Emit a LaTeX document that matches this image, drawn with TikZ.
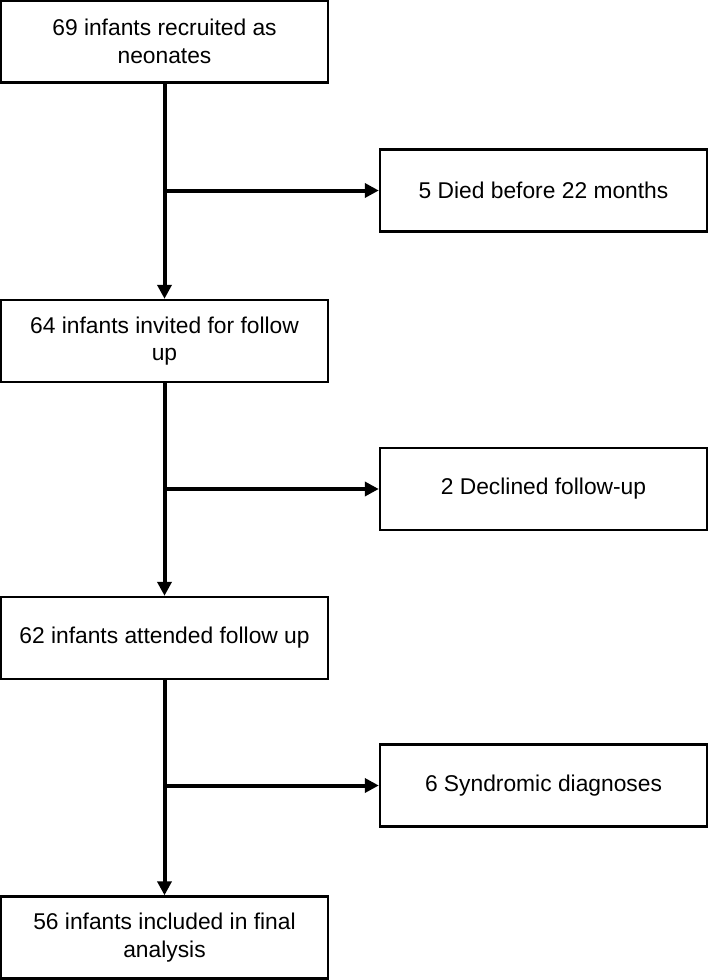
\documentclass[tikz,border=0pt]{standalone}
\usepackage{fontspec}
\setmainfont{Liberation Sans}
\usetikzlibrary{arrows.meta}
\tikzset{
  box/.style={draw,line width=2.4pt,minimum width=327pt,minimum height=82pt,
    inner sep=0pt,align=center,font=\fontsize{22.8}{27.4}\selectfont},
  arr/.style={line width=4pt,-{Triangle[length=14pt,width=14pt]}}
}
\begin{document}
\begin{tikzpicture}[x=1pt,y=-1pt]
\useasboundingbox(0,0) rectangle (709,980);
\node[box](n69) at (164.5,41.5) {69 infants recruited as\\neonates};
\node[box](n64) at (164.5,341) {64 infants invited for follow\\up};
\node[box](n62) at (164.5,638) {62 infants attended follow up};
\node[box](n56) at (164.5,937.5) {56 infants included in final\\analysis};
\node[box](d5) at (543.5,190.5) {5 Died before 22 months};
\node[box](d2) at (543.5,489) {2 Declined follow-up};
\node[box](s6) at (543.5,785.5) {6 Syndromic diagnoses};
\coordinate(j1) at (n69.south |- d5.west);
\coordinate(j2) at (n64.south |- d2.west);
\coordinate(j3) at (n62.south |- s6.west);
\draw[arr](n69)--(n64);
\draw[arr](n64)--(n62);
\draw[arr](n62)--(n56);
\draw[arr](j1)--(d5);
\draw[arr](j2)--(d2);
\draw[arr](j3)--(s6);
\end{tikzpicture}
\end{document}
